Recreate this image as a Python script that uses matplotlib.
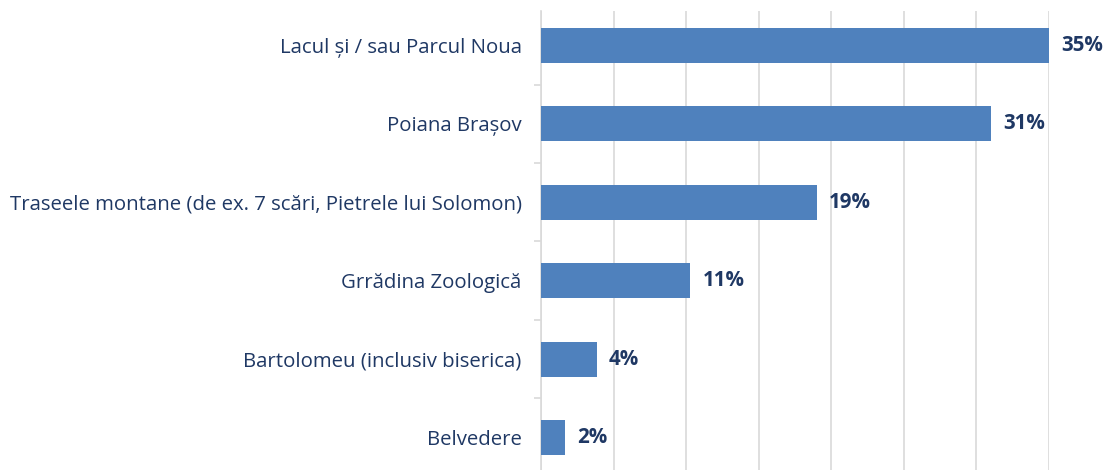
import matplotlib
matplotlib.use("Agg")
import matplotlib.pyplot as plt

categories = [
    "Lacul și / sau Parcul Noua",
    "Poiana Brașov",
    "Traseele montane (de ex. 7 scări, Pietrele lui Solomon)",
    "Grrădina Zoologică",
    "Bartolomeu (inclusiv biserica)",
    "Belvedere",
]
# bar lengths; labels are the rounded percentages
values = [35.0, 31.0, 19.0, 10.3, 3.85, 1.65]
value_labels = ["35%", "31%", "19%", "11%", "4%", "2%"]

bar_color = "#4F81BD"
text_color = "#1F3864"
grid_color = "#D9D9D9"

plt.rcParams["font.family"] = ["Open Sans", "DejaVu Sans"]

fig = plt.figure(figsize=(11.07, 4.70), dpi=100)
ax = fig.add_axes([0.4887, -0.01426, 0.4589, 0.9909])

ypos = list(range(len(categories)))
ax.barh(ypos, values, height=0.446, color=bar_color, zorder=3)

for y, v, lab in zip(ypos, values, value_labels):
    ax.text(v + 0.82, y, lab, va="center", ha="left", fontsize=14.8,
            fontweight="bold", color=text_color)

ax.set_xlim(0, 35)
ax.set_ylim(len(categories) - 0.5, -0.44)
ax.set_xticks(range(0, 36, 5))
ax.xaxis.grid(True, color=grid_color, linewidth=1.2, zorder=0)
ax.tick_params(axis="x", length=0, labelbottom=False)

ax.set_yticks(ypos)
ax.set_yticklabels(categories, fontsize=14.7, color=text_color)
ax.tick_params(axis="y", length=0, pad=14)
ax.set_yticks([y + 0.5 for y in ypos[:-1]], minor=True)
ax.tick_params(axis="y", which="minor", length=5, color=grid_color, width=1.2)

for s in ["top", "right", "bottom"]:
    ax.spines[s].set_visible(False)
ax.spines["left"].set_color(grid_color)
ax.spines["left"].set_linewidth(1.2)

fig.savefig("out.png", dpi=100)
